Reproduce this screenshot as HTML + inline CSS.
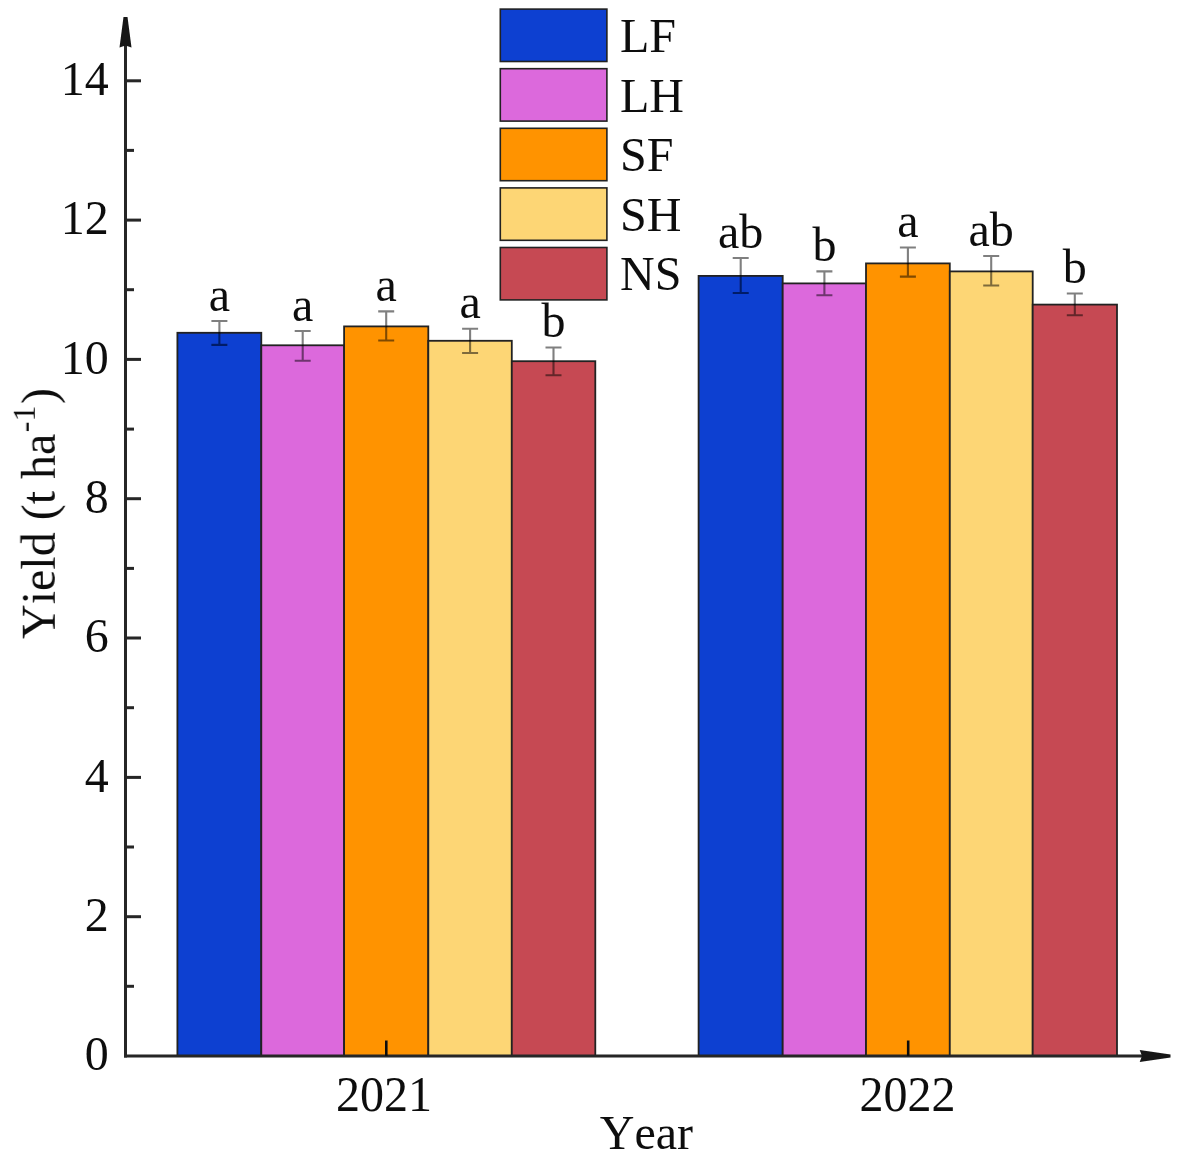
<!DOCTYPE html><html><head><meta charset="utf-8"><style>html,body{margin:0;padding:0;background:#fff;}svg{display:block}text{font-kerning:none}</style></head><body>
<svg width="1186" height="1168" viewBox="0 0 1186 1168">
<defs><filter id="bl" filterUnits="userSpaceOnUse" x="0" y="0" width="1186" height="1168"><feGaussianBlur stdDeviation="0.55"/></filter></defs>
<rect width="1186" height="1168" fill="#fff"/>
<g filter="url(#bl)">
<g font-family='"Liberation Serif", serif' font-size="48" fill="#111">
<rect x="177.4" y="332.8" width="83.9" height="723.2" fill="#0A3FD1" stroke="#222" stroke-width="1.8"/>
<rect x="261.3" y="345.3" width="82.8" height="710.7" fill="#DC69DC" stroke="#222" stroke-width="1.8"/>
<rect x="344.1" y="326.4" width="84.2" height="729.6" fill="#FF9300" stroke="#222" stroke-width="1.8"/>
<rect x="428.3" y="340.8" width="83.5" height="715.2" fill="#FDD675" stroke="#222" stroke-width="1.8"/>
<rect x="511.8" y="361.2" width="83.5" height="694.8" fill="#C64A53" stroke="#222" stroke-width="1.8"/>
<path d="M219.4 321.0V344.9M211.4 321.0H227.4M211.4 344.9H227.4" fill="none" stroke="#000" stroke-opacity="0.5" stroke-width="2.1"/>
<text x="219.4" y="310.5" text-anchor="middle">a</text>
<path d="M302.7 331.0V360.8M294.7 331.0H310.7M294.7 360.8H310.7" fill="none" stroke="#000" stroke-opacity="0.5" stroke-width="2.1"/>
<text x="302.7" y="320.5" text-anchor="middle">a</text>
<path d="M386.2 311.4V340.5M378.2 311.4H394.2M378.2 340.5H394.2" fill="none" stroke="#000" stroke-opacity="0.5" stroke-width="2.1"/>
<text x="386.2" y="300.9" text-anchor="middle">a</text>
<path d="M470.1 328.8V353.0M462.1 328.8H478.1M462.1 353.0H478.1" fill="none" stroke="#000" stroke-opacity="0.5" stroke-width="2.1"/>
<text x="470.1" y="318.3" text-anchor="middle">a</text>
<path d="M553.5 347.5V375.2M545.5 347.5H561.5M545.5 375.2H561.5" fill="none" stroke="#000" stroke-opacity="0.5" stroke-width="2.1"/>
<text x="553.5" y="337.0" text-anchor="middle">b</text>
<rect x="698.6" y="275.9" width="84.1" height="780.1" fill="#0A3FD1" stroke="#222" stroke-width="1.8"/>
<rect x="782.7" y="283.4" width="83.3" height="772.6" fill="#DC69DC" stroke="#222" stroke-width="1.8"/>
<rect x="866.0" y="263.4" width="83.8" height="792.6" fill="#FF9300" stroke="#222" stroke-width="1.8"/>
<rect x="949.8" y="271.4" width="82.9" height="784.6" fill="#FDD675" stroke="#222" stroke-width="1.8"/>
<rect x="1032.7" y="304.6" width="84.3" height="751.4" fill="#C64A53" stroke="#222" stroke-width="1.8"/>
<path d="M740.7 258.0V293.0M732.7 258.0H748.7M732.7 293.0H748.7" fill="none" stroke="#000" stroke-opacity="0.5" stroke-width="2.1"/>
<text x="740.7" y="247.5" text-anchor="middle">ab</text>
<path d="M824.4 271.4V295.3M816.4 271.4H832.4M816.4 295.3H832.4" fill="none" stroke="#000" stroke-opacity="0.5" stroke-width="2.1"/>
<text x="824.4" y="260.9" text-anchor="middle">b</text>
<path d="M907.9 247.5V276.6M899.9 247.5H915.9M899.9 276.6H915.9" fill="none" stroke="#000" stroke-opacity="0.5" stroke-width="2.1"/>
<text x="907.9" y="237.0" text-anchor="middle">a</text>
<path d="M991.2 256.0V285.5M983.2 256.0H999.2M983.2 285.5H999.2" fill="none" stroke="#000" stroke-opacity="0.5" stroke-width="2.1"/>
<text x="991.2" y="245.5" text-anchor="middle">ab</text>
<path d="M1074.8 293.5V315.3M1066.8 293.5H1082.8M1066.8 315.3H1082.8" fill="none" stroke="#000" stroke-opacity="0.5" stroke-width="2.1"/>
<text x="1074.8" y="283.0" text-anchor="middle">b</text>
<g stroke="#262626" stroke-width="3" fill="none">
<line x1="125.5" y1="40" x2="125.5" y2="1057.5"/>
<line x1="124" y1="1056.0" x2="1145" y2="1056.0"/>
<line x1="125.5" y1="986.3" x2="134.0" y2="986.3"/>
<line x1="125.5" y1="916.7" x2="141.0" y2="916.7"/>
<line x1="125.5" y1="847.0" x2="134.0" y2="847.0"/>
<line x1="125.5" y1="777.4" x2="141.0" y2="777.4"/>
<line x1="125.5" y1="707.7" x2="134.0" y2="707.7"/>
<line x1="125.5" y1="638.0" x2="141.0" y2="638.0"/>
<line x1="125.5" y1="568.4" x2="134.0" y2="568.4"/>
<line x1="125.5" y1="498.7" x2="141.0" y2="498.7"/>
<line x1="125.5" y1="429.1" x2="134.0" y2="429.1"/>
<line x1="125.5" y1="359.4" x2="141.0" y2="359.4"/>
<line x1="125.5" y1="289.7" x2="134.0" y2="289.7"/>
<line x1="125.5" y1="220.1" x2="141.0" y2="220.1"/>
<line x1="125.5" y1="150.4" x2="134.0" y2="150.4"/>
<line x1="125.5" y1="80.8" x2="141.0" y2="80.8"/>
<line x1="386.3" y1="1040.5" x2="386.3" y2="1056" stroke="#111" stroke-width="2.6"/>
<line x1="908.2" y1="1040.5" x2="908.2" y2="1056" stroke="#111" stroke-width="2.6"/>
</g>
<polygon points="123.5,17 127.5,17 131.5,47.5 125.5,45.5 119.5,47.5" fill="#151515"/>
<polygon points="1170.5,1054.5 1170.5,1057.5 1139.7,1062 1142,1056 1139.7,1050" fill="#151515"/>
<text x="108.7" y="0" text-anchor="end" transform="translate(0,1070.3) scale(1,1.03)">0</text>
<text x="108.7" y="0" text-anchor="end" transform="translate(0,931.0) scale(1,1.03)">2</text>
<text x="108.7" y="0" text-anchor="end" transform="translate(0,791.7) scale(1,1.03)">4</text>
<text x="108.7" y="0" text-anchor="end" transform="translate(0,652.3) scale(1,1.03)">6</text>
<text x="108.7" y="0" text-anchor="end" transform="translate(0,513.0) scale(1,1.03)">8</text>
<text x="108.7" y="0" text-anchor="end" transform="translate(0,373.7) scale(1,1.03)">10</text>
<text x="108.7" y="0" text-anchor="end" transform="translate(0,234.4) scale(1,1.03)">12</text>
<text x="108.7" y="0" text-anchor="end" transform="translate(0,95.1) scale(1,1.03)">14</text>
<text x="384" y="0" text-anchor="middle" transform="translate(0,1111) scale(1,1.05)">2021</text>
<text x="907.5" y="0" text-anchor="middle" transform="translate(0,1111) scale(1,1.05)">2022</text>
<text x="646.4" y="1149" text-anchor="middle">Year</text>
<text transform="translate(54.8,639) rotate(-90)">Yield (t ha<tspan font-size="32" dx="1.5" dy="-20">-1</tspan><tspan dx="1.5" dy="20">)</tspan></text>
<rect x="500.3" y="9.1" width="106.6" height="52.4" fill="#0A3FD1" stroke="#222" stroke-width="1.6"/>
<text x="620" y="51.9">LF</text>
<rect x="500.3" y="68.7" width="106.6" height="52.4" fill="#DC69DC" stroke="#222" stroke-width="1.6"/>
<text x="620" y="111.5">LH</text>
<rect x="500.3" y="128.3" width="106.6" height="52.4" fill="#FF9300" stroke="#222" stroke-width="1.6"/>
<text x="620" y="171.1">SF</text>
<rect x="500.3" y="187.9" width="106.6" height="52.4" fill="#FDD675" stroke="#222" stroke-width="1.6"/>
<text x="620" y="230.7">SH</text>
<rect x="500.3" y="247.5" width="106.6" height="52.4" fill="#C64A53" stroke="#222" stroke-width="1.6"/>
<text x="620" y="290.3">NS</text>
</g></g></svg></body></html>
